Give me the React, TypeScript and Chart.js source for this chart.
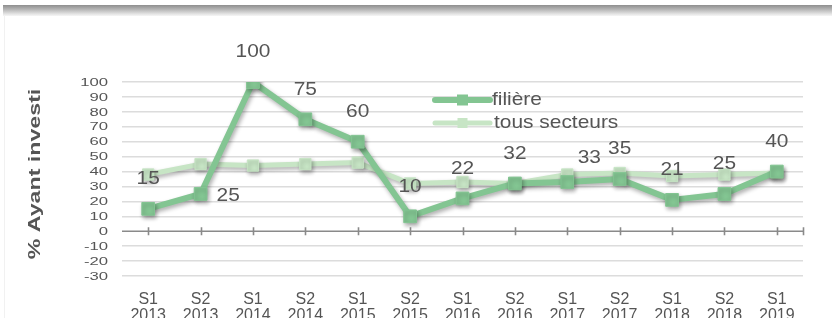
import React, { useEffect, useRef } from "react";
import { Chart, registerables } from "chart.js";

Chart.register(...registerables);

const categories: string[][] = [
  ["S1", "2013"], ["S2", "2013"], ["S1", "2014"], ["S2", "2014"], ["S1", "2015"],
  ["S2", "2015"], ["S1", "2016"], ["S2", "2016"], ["S1", "2017"], ["S2", "2017"],
  ["S1", "2018"], ["S2", "2018"], ["S1", "2019"],
];
const filiere: number[] = [15, 25, 100, 75, 60, 10, 22, 32, 33, 35, 21, 25, 40];
const tousSecteurs: number[] = [38, 45, 44, 45, 46, 32, 33, 32, 38, 39, 37, 38, 39];
const labelPlacement: string[] = [
  "above", "right", "above", "above", "above", "above", "above",
  "above", "aboveRight", "above", "above", "above", "above",
];
const seriesNames: string[] = ["filière", "tous secteurs"];
const yTitle = "% Ayant investi";
const yMin = -30;
const yMax = 100;
const yStep = 10;

const TEXT = "#555555";
const DARK = "#83C592";
const LIGHT = "#C7E5C5";
const FONT = "'Liberation Sans', Arial, sans-serif";

const shadowPlugin = {
  id: "shadowPlugin",
  beforeDatasetDraw(chart: any) {
    const ctx = chart.ctx;
    ctx.save();
    ctx.shadowColor = "rgba(0,0,0,0.32)";
    ctx.shadowBlur = 4;
    ctx.shadowOffsetX = 1.5;
    ctx.shadowOffsetY = 2.5;
  },
  afterDatasetDraw(chart: any) {
    chart.ctx.restore();
  },
};

const axisPlugin = {
  id: "axisPlugin",
  beforeDatasetsDraw(chart: any) {
    const ctx = chart.ctx;
    const x = chart.scales.x;
    const y = chart.scales.y;
    const y0 = y.getPixelForValue(0);
    ctx.save();
    ctx.strokeStyle = "#8a8a8a";
    ctx.lineWidth = 1.6;
    ctx.beginPath();
    ctx.moveTo(x.left, y0);
    ctx.lineTo(x.right, y0);
    const xs: number[] = categories.map((_, i) => x.getPixelForValue(i));
    xs.push(x.right);
    for (const px of xs) {
      ctx.moveTo(Math.round(px) + 0.5, y0 - 4);
      ctx.lineTo(Math.round(px) + 0.5, y0 + 4);
    }
    ctx.stroke();
    ctx.restore();
  },
  afterDraw(chart: any) {
    const ctx = chart.ctx;
    const y = chart.scales.y;
    ctx.save();
    ctx.fillStyle = TEXT;
    ctx.font = `11.5px ${FONT}`;
    ctx.textAlign = "right";
    ctx.textBaseline = "middle";
    for (const t of y.ticks) {
      const py = y.getPixelForValue(t.value);
      ctx.save();
      ctx.translate(108, py + 0.5);
      ctx.scale(1.45, 1);
      ctx.fillText(String(t.value), 0, 0);
      ctx.restore();
    }
    // axis title
    ctx.save();
    ctx.font = `bold 16px ${FONT}`;
    ctx.textAlign = "center";
    ctx.textBaseline = "alphabetic";
    ctx.translate(39.5, (y.top + y.bottom) / 2 - 5);
    ctx.rotate(-Math.PI / 2);
    ctx.scale(1.45, 1);
    ctx.fillText(yTitle, 0, 0);
    ctx.restore();
    ctx.restore();
  },
};

const labelPlugin = {
  id: "labelPlugin",
  afterDatasetsDraw(chart: any) {
    const ctx = chart.ctx;
    const meta = chart.getDatasetMeta(0);
    ctx.save();
    ctx.fillStyle = TEXT;
    ctx.font = `19px ${FONT}`;
    ctx.textBaseline = "middle";
    meta.data.forEach((el: any, i: number) => {
      const v = String(chart.data.datasets[0].data[i]);
      const place = labelPlacement[i];
      let tx = el.x;
      let ty = el.y - 30;
      let align: CanvasTextAlign = "center";
      if (place === "right") {
        tx = el.x + 16;
        ty = el.y + 2;
        align = "left";
      } else if (place === "aboveRight") {
        tx = el.x + 22;
        ty = el.y - 24;
      }
      ctx.save();
      ctx.translate(tx, ty);
      ctx.scale(1.1, 1);
      ctx.textAlign = align;
      ctx.fillText(v, 0, 0);
      ctx.restore();
    });

    // legend inside plot
    const area = chart.chartArea;
    const lx0 = area.left + 313;
    const lx1 = area.left + 368;
    const rows = [area.top + 18, area.top + 41];
    chart.data.datasets.forEach((ds: any, i: number) => {
      const ly = rows[i];
      ctx.save();
      ctx.strokeStyle = ds.borderColor;
      ctx.lineWidth = ds.borderWidth;
      ctx.lineCap = "round";
      ctx.beginPath();
      ctx.moveTo(lx0, ly);
      ctx.lineTo(lx1, ly);
      ctx.stroke();
      const s = i === 0 ? 11 : 10;
      ctx.fillStyle = ds.pointBackgroundColor;
      ctx.fillRect((lx0 + lx1) / 2 - s / 2, ly - s / 2, s, s);
      ctx.restore();
      ctx.save();
      ctx.fillStyle = TEXT;
      ctx.font = `19px ${FONT}`;
      ctx.textAlign = "left";
      ctx.textBaseline = "middle";
      ctx.translate(lx1 + 2 + (i === 0 ? 0 : 2), ly);
      ctx.scale(1.1, 1);
      ctx.fillText(ds.label, 0, 0);
      ctx.restore();
    });
    ctx.restore();
  },
};

export default function App() {
  const ref = useRef<HTMLCanvasElement | null>(null);

  useEffect(() => {
    if (!ref.current) return;
    const chart = new Chart(ref.current, {
      type: "line",
      data: {
        labels: categories,
        datasets: [
          {
            label: seriesNames[0],
            data: filiere,
            borderColor: DARK,
            backgroundColor: DARK,
            pointBackgroundColor: DARK,
            pointBorderColor: DARK,
            borderWidth: 6,
            pointStyle: "rect",
            pointRadius: 9,
            pointBorderWidth: 1,
            borderJoinStyle: "round",
            borderCapStyle: "round",
            tension: 0,
          },
          {
            label: seriesNames[1],
            data: tousSecteurs,
            borderColor: LIGHT,
            backgroundColor: LIGHT,
            pointBackgroundColor: LIGHT,
            pointBorderColor: LIGHT,
            borderWidth: 5,
            pointStyle: "rect",
            pointRadius: 8,
            pointBorderWidth: 1,
            borderJoinStyle: "round",
            borderCapStyle: "round",
            tension: 0,
          },
        ],
      },
      options: {
        responsive: false,
        animation: false,
        devicePixelRatio: 1,
        layout: { padding: { left: 0, right: 29, top: 82, bottom: 14 } },
        plugins: {
          legend: { display: false },
          tooltip: { enabled: false },
        },
        scales: {
          x: {
            type: "category",
            offset: true,
            grid: { display: false },
            border: { display: false },
            ticks: {
              color: TEXT,
              font: { family: FONT, size: 16, lineHeight: 1 },
              padding: 8,
              maxRotation: 0,
              autoSkip: false,
            },
            afterFit(scale: any) {
              scale.height = 50;
            },
          },
          y: {
            min: yMin,
            max: yMax,
            border: { display: false },
            grid: {
              color: (c: any) => (c.tick && c.tick.value === 0 ? "rgba(0,0,0,0)" : "#dcdcdc"),
              lineWidth: 1.6,
              drawTicks: false,
            },
            ticks: { stepSize: yStep, display: false, autoSkip: false },
            afterFit(scale: any) {
              scale.width = 122;
            },
          },
        },
      },
      plugins: [axisPlugin, shadowPlugin, labelPlugin],
    } as any);
    return () => chart.destroy();
  }, []);

  return (
    <div
      style={{
        position: "fixed",
        left: 0,
        top: 0,
        width: 832,
        height: 318,
        overflow: "hidden",
        background: "#fff",
      }}
    >
      <div
        style={{
          position: "absolute",
          left: 3,
          right: 0,
          top: 5,
          height: 11,
          background: "linear-gradient(to bottom, #8e8e8e 0%, #b5b5b5 40%, #e2e2e2 80%, #f6f6f6 100%)",
        }}
      />
      <div
        style={{
          position: "absolute",
          left: 4,
          top: 16,
          bottom: 0,
          width: 1,
          background: "#f1f1f1",
        }}
      />
      <canvas
        ref={ref}
        width={832}
        height={340}
        style={{ position: "absolute", left: 0, top: 0, display: "block" }}
      />
    </div>
  );
}
